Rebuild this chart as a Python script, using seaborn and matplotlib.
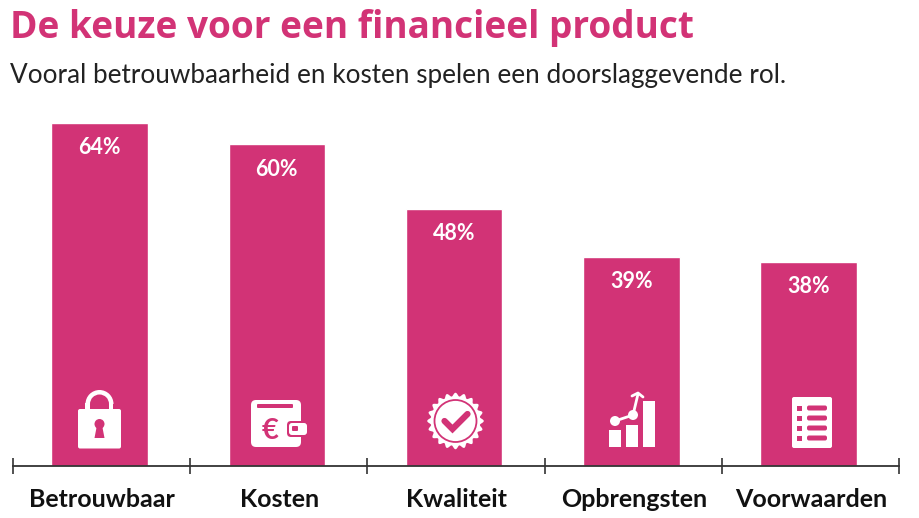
import numpy as np
import matplotlib
matplotlib.use('Agg')
import matplotlib.pyplot as plt
import seaborn as sns
from matplotlib.patches import Circle, FancyBboxPatch, Polygon, Rectangle, Wedge

categories = ['Betrouwbaar', 'Kosten', 'Kwaliteit', 'Opbrengsten', 'Voorwaarden']
values = [64, 60, 48, 39, 38]
value_labels = ['64%', '60%', '48%', '39%', '38%']

PINK = '#D23376'
WHITE = 'white'

sns.set_theme(style='white')
plt.rcParams['font.family'] = ['Lato', 'DejaVu Sans']

fig = plt.figure(figsize=(9.2, 5.18), dpi=100)
ax = fig.add_axes([13 / 920, (518 - 465.5) / 518, 886 / 920, 365.5 / 518])
sns.barplot(x=categories, y=values, color=PINK, saturation=1, width=0.545, ax=ax)
# bars sit a little left of the middle of each tick interval
ax.set_xlim(-0.489, 4.511)
ax.set_ylim(0, 68.3)
ax.set_ylabel('')
ax.set_yticks([])
sns.despine(ax=ax, left=True)
ax.spines['bottom'].set_color('#333333')
ax.spines['bottom'].set_linewidth(1.3)

ax.set_xticks(np.arange(6) - 0.489, minor=True)
ax.set_xticks(np.arange(5) + 0.014)
ax.set_xticklabels(categories, fontsize=18, fontweight='bold', color='#111111')
ax.tick_params(axis='x', which='major', length=0, pad=16)
ax.tick_params(axis='x', which='minor', bottom=True, direction='inout', length=12, width=1.2, color='#333333')

for i, v in enumerate(values):
    ax.text(i, v - 4.6, value_labels[i], ha='center', va='center', color=WHITE,
            fontsize=15.5, fontweight='bold')

# overlay in pixel coordinates for title and icons
ov = fig.add_axes([0, 0, 1, 1])
ov.set_xlim(0, 920)
ov.set_ylim(518, 0)
ov.axis('off')
ov.patch.set_alpha(0)


def fit_width(txt, width_px):
    fig.canvas.draw()
    w = txt.get_window_extent().width
    txt.set_fontsize(txt.get_fontsize() * width_px / w)


title = ov.text(10, 28, 'De keuze voor een financieel product', color=PINK, fontsize=26,
                family=['Open Sans', 'DejaVu Sans'], fontweight='bold', va='center', ha='left')
fit_width(title, 687)
subtitle = ov.text(10, 76, 'Vooral betrouwbaarheid en kosten spelen een doorslaggevende rol.',
                   color='#222222', fontsize=18, va='center', ha='left')
fit_width(subtitle, 773)


def rbox(x0, y0, x1, y1, r, color):
    ov.add_patch(FancyBboxPatch((x0 + r, y0 + r), x1 - x0 - 2 * r, y1 - y0 - 2 * r,
                                boxstyle='round,pad=%s,rounding_size=%s' % (r, r),
                                fc=color, ec='none'))


def lock_icon(cx):
    ov.add_patch(Wedge((cx, 404), 14, 180, 360, width=4.5, fc=WHITE, ec='none'))
    ov.add_patch(Rectangle((cx - 14, 403), 4.5, 8, fc=WHITE, ec='none'))
    ov.add_patch(Rectangle((cx + 9.5, 403), 4.5, 8, fc=WHITE, ec='none'))
    rbox(cx - 21.5, 409, cx + 21.5, 448.5, 2, WHITE)
    ov.add_patch(Circle((cx, 424), 5, fc=PINK, ec='none'))
    ov.add_patch(Polygon([(cx - 2.5, 425), (cx + 2.5, 425), (cx + 5, 438), (cx - 5, 438)], fc=PINK, ec='none'))


def wallet_icon(cx):
    rbox(cx - 26, 400, cx + 24, 447, 5, WHITE)
    rbox(cx - 20, 404, cx + 16, 408, 1, PINK)
    ov.text(cx - 7, 431, '€', color=PINK, fontsize=21, fontweight='bold', ha='center', va='center')
    rbox(cx + 10, 421, cx + 31, 437, 4, PINK)
    rbox(cx + 12, 423, cx + 30, 435, 3, WHITE)
    rbox(cx + 15, 426, cx + 21, 431, 1, PINK)


def badge_icon(cx, cy=421):
    angles = np.linspace(0, 2 * np.pi, 240, endpoint=False)
    radii = 26.5 + 1.8 * np.cos(angles * 20)
    ov.add_patch(Polygon(np.column_stack([cx + radii * np.cos(angles), cy + radii * np.sin(angles)]),
                         fc=WHITE, ec='none'))
    ov.add_patch(Circle((cx, cy), 21, fc=WHITE, ec=PINK, lw=1.3))
    ov.plot([cx - 11, cx - 3, cx + 12], [cy, cy + 8, cy - 7], color=PINK, lw=4.5, solid_capstyle='round',
            solid_joinstyle='miter')


def growth_icon(cx):
    for x0, x1, top in [(-23, -10.5, 430), (-6, 6, 424.5), (11, 23, 400.5)]:
        ov.add_patch(Rectangle((cx + x0, top), x1 - x0, 446.5 - top, fc=WHITE, ec='none'))
    ov.plot([cx - 17, cx + 1], [421, 415], color=WHITE, lw=2)
    ov.add_patch(Circle((cx - 17, 421), 5, fc=WHITE, ec='none'))
    ov.add_patch(Circle((cx + 1, 415), 5, fc=WHITE, ec='none'))
    ov.plot([cx + 1, cx + 6], [415, 394], color=WHITE, lw=2)
    ov.plot([cx, cx + 6, cx + 11], [396, 393, 397], color=WHITE, lw=2)


def list_icon(cx):
    rbox(cx - 20, 397, cx + 20, 448, 2, WHITE)
    for y in [408, 418, 428, 438]:
        ov.add_patch(Rectangle((cx - 15, y - 2.5), 5, 5, fc=PINK, ec='none'))
        rbox(cx - 5, y - 2.5, cx + 15, y + 2.5, 2, PINK)


lock_icon(99.5)
wallet_icon(277)
badge_icon(455.5)
growth_icon(632)
list_icon(812)

fig.savefig('out.png', dpi=100, facecolor='white')
